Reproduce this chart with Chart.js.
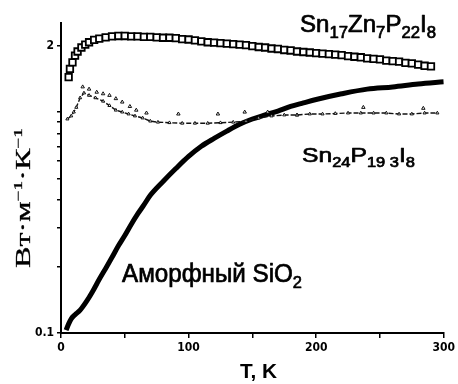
<!DOCTYPE html>
<html>
<head>
<meta charset="utf-8">
<script src="https://cdn.jsdelivr.net/npm/chart.js@4"></script>
<style>
  html, body { margin: 0; padding: 0; background: #fff; }
  #wrap { width: 458px; height: 384px; }
</style>
</head>
<body>
<div id="wrap"><canvas id="c" width="458" height="384"></canvas></div>
<script>
// ---------- DATA ----------
// Sn17Zn7P22I8 (open squares)
const sqT = [6, 7, 9, 11, 13, 16, 19, 22, 26, 30, 35, 40, 45, 50, 55, 60, 65, 70, 75, 80, 85, 90, 95, 100,
  105, 110, 115, 120, 125, 130, 135, 140, 145, 150, 155, 160, 165, 170, 175, 180, 185, 190, 195, 200,
  205, 210, 215, 220, 225, 230, 235, 240, 245, 250, 255, 260, 265, 270, 275, 280, 285, 290];
const sqK = [1.44, 1.57, 1.68, 1.80, 1.88, 1.96, 2.02, 2.07, 2.12, 2.15, 2.18, 2.20, 2.21, 2.21, 2.20, 2.20, 2.19, 2.19, 2.18, 2.17, 2.17, 2.16, 2.14, 2.13,
  2.11, 2.09, 2.07, 2.06, 2.05, 2.04, 2.03, 2.02, 2.01, 1.99, 1.97, 1.96, 1.94, 1.93, 1.91, 1.90, 1.88, 1.87, 1.86, 1.85,
  1.84, 1.83, 1.82, 1.81, 1.79, 1.78, 1.77, 1.75, 1.74, 1.73, 1.71, 1.70, 1.69, 1.67, 1.66, 1.64, 1.62, 1.61];

// Sn24P19.3I8 (triangles, dashed) – main (lower) branch
const triT = [5, 8, 10, 12, 15, 18, 22, 27, 33, 38, 43, 48, 53, 58, 64, 70, 76, 85, 95, 105, 115, 125, 135, 145,
  155, 165, 175, 185, 195, 205, 215, 225, 235, 245, 255, 265, 275, 285, 295];
const triK = [0.93, 0.96, 1.00, 1.05, 1.16, 1.22, 1.19, 1.16, 1.12, 1.07, 1.02, 1.00, 0.98, 0.96, 0.94, 0.91, 0.90, 0.895, 0.89, 0.89, 0.89, 0.895, 0.90, 0.91,
  0.94, 0.96, 0.97, 0.97, 0.98, 0.98, 0.985, 0.99, 0.99, 0.99, 0.99, 0.98, 0.98, 0.99, 0.99];
// Sn24P19.3I8 – scattered upper points
const triUpT = [17, 22, 28, 33, 38, 43, 48, 54, 59, 67, 92, 123, 144, 162, 185, 237, 284];
const triUpK = [1.30, 1.27, 1.23, 1.21, 1.19, 1.15, 1.11, 1.06, 1.02, 0.99, 0.98, 0.98, 1.00, 1.00, 0.97, 1.05, 1.04];

// amorphous SiO2 (thick line)
const sioT = [4, 6, 8, 11, 15, 20, 25, 30, 35, 40, 45, 50, 55, 60, 65, 70, 80, 90, 100, 110, 120, 130, 140, 150,
  160, 170, 180, 190, 200, 220, 240, 260, 280, 300];
const sioK = [0.103, 0.110, 0.116, 0.121, 0.127, 0.139, 0.155, 0.175, 0.196, 0.220, 0.248, 0.276, 0.31, 0.345, 0.38, 0.42, 0.485, 0.555, 0.63, 0.70, 0.76, 0.82, 0.88, 0.93,
  0.97, 1.01, 1.06, 1.10, 1.14, 1.21, 1.27, 1.30, 1.34, 1.37];

// ticks
const xTicks = [0, 50, 100, 150, 200, 250, 300];
const xTickLabels = ['0', '', '100', '', '200', '', '300'];
const yTicks = [0.1, 0.2, 0.3, 0.4, 0.5, 0.6, 0.7, 0.8, 0.9, 1, 2];
const yTickLabels = ['0.1', '', '', '', '', '', '', '', '', '', '2'];

// texts
const xTitle = 'T, K';
const yTitleParts = [['Вт·м', 0], ['−1', 2], ['·К', 0], ['−1', 2]];
const labelSn17 = [['Sn', 0], ['17', 1], ['Zn', 0], ['7', 1], ['P', 0], ['22', 1], ['I', 0], ['8', 1]];
const labelSn24 = [['Sn', 0], ['24', 1], ['P', 0], ['19 3', 1], ['I', 0], ['8', 1]];
const labelSiO2 = [['Аморфный SiO', 0], ['2', 1]];

// ---------- helpers ----------
const pts = (xs, ys) => xs.map((x, i) => ({ x: x, y: ys[i] }));

function drawRich(ctx, parts, opt) {
  const size = opt.size, fam = opt.family, w = opt.weight || 'normal';
  const subSize = Math.round(size * (opt.subRatio || 0.68));
  const fontN = w + ' ' + size + 'px ' + fam;
  const fontS = w + ' ' + subSize + 'px ' + fam;
  let natural = 0;
  parts.forEach(p => { ctx.font = p[1] ? fontS : fontN; natural += ctx.measureText(p[0]).width; });
  const sx = opt.width ? opt.width / natural : 1;
  ctx.save();
  ctx.translate(opt.x, opt.y);
  if (opt.rotate) ctx.rotate(-Math.PI / 2);
  ctx.scale(sx, 1);
  let cx = opt.center ? -natural / 2 : 0;
  ctx.fillStyle = '#000';
  ctx.strokeStyle = '#000';
  ctx.lineWidth = opt.stroke || 0;
  ctx.lineJoin = 'round';
  ctx.textBaseline = 'alphabetic';
  ctx.textAlign = 'left';
  parts.forEach(p => {
    ctx.font = p[1] ? fontS : fontN;
    let dy = 0;
    if (p[1] === 1) dy = size * 0.24;
    if (p[1] === 2) dy = -size * 0.42;
    ctx.fillText(p[0], cx, dy);
    if (opt.stroke) ctx.strokeText(p[0], cx, dy);
    cx += ctx.measureText(p[0]).width;
  });
  ctx.restore();
}

const textPlugin = {
  id: 'texts',
  afterDraw(chart) {
    const ctx = chart.ctx;
    const sans = '"Liberation Sans", Arial, sans-serif';
    const serif = '"Liberation Serif", "Times New Roman", serif';
    drawRich(ctx, labelSn17, { x: 300, y: 32, size: 23, family: sans, width: 136, stroke: 0.7 });
    drawRich(ctx, labelSn24, { x: 302, y: 162, size: 21, family: sans, width: 113, stroke: 0.7 });
    drawRich(ctx, labelSiO2, { x: 122, y: 282, size: 25, family: sans, width: 180, stroke: 0.7 });
    drawRich(ctx, [[xTitle, 0]], { x: 240, y: 378, size: 21, family: sans, weight: 'bold', width: 37 });
    drawRich(ctx, yTitleParts, { x: 30, y: 198, size: 20, family: serif, width: 140, rotate: true, center: true, subRatio: 0.62, stroke: 0.3 });
  }
};

// ---------- chart ----------
const tickFont = { family: '"Liberation Sans Narrow", "DejaVu Sans Condensed", "Liberation Sans", sans-serif', size: 12, weight: 'bold' };

new Chart(document.getElementById('c'), {
  type: 'scatter',
  data: {
    datasets: [
      {
        label: 'SiO2',
        data: pts(sioT, sioK),
        showLine: true,
        borderColor: '#000',
        borderWidth: 5,
        pointRadius: 0,
        cubicInterpolationMode: 'monotone',
        order: 3
      },
      {
        label: 'Sn24 lower',
        data: pts(triT, triK),
        showLine: true,
        borderColor: '#111',
        borderWidth: 1.4,
        borderDash: [5, 2],
        pointStyle: 'triangle',
        pointRadius: 1.8,
        pointBorderWidth: 1,
        pointBackgroundColor: '#fff',
        pointBorderColor: '#111',
        order: 2
      },
      {
        label: 'Sn24 upper',
        data: pts(triUpT, triUpK),
        showLine: false,
        pointStyle: 'triangle',
        pointRadius: 2,
        pointBorderWidth: 1,
        pointBackgroundColor: '#fff',
        pointBorderColor: '#111',
        order: 2
      },
      {
        label: 'Sn17',
        data: pts(sqT, sqK),
        showLine: false,
        pointStyle: 'rect',
        pointRadius: 4.6,
        pointBorderWidth: 1.8,
        pointBackgroundColor: '#fff',
        pointBorderColor: '#000',
        order: 1
      }
    ]
  },
  options: {
    responsive: false,
    animation: false,
    events: [],
    layout: { padding: { top: 23, right: 11, left: 0, bottom: 0 } },
    plugins: { legend: { display: false }, tooltip: { enabled: false } },
    scales: {
      x: {
        type: 'linear',
        min: 0, max: 300,
        afterFit(s) { s.height = 51; },
        afterBuildTicks(s) { s.ticks = xTicks.map(v => ({ value: v })); },
        ticks: {
          autoSkip: false, maxRotation: 0, padding: 3, color: '#000', font: tickFont,
          callback: (v) => xTickLabels[xTicks.indexOf(v)] || ''
        },
        grid: { display: true, drawOnChartArea: false, drawTicks: true, tickLength: 5, color: '#000', lineWidth: 1.5 },
        border: { display: true, color: '#000', width: 2 }
      },
      y: {
        type: 'logarithmic',
        min: 0.1, max: 2.53,
        afterFit(s) { s.width = 61; },
        afterBuildTicks(s) { s.ticks = yTicks.map(v => ({ value: v })); },
        ticks: {
          autoSkip: false, padding: 3, color: '#000', font: tickFont,
          callback: (v) => yTickLabels[yTicks.indexOf(v)] || ''
        },
        grid: { display: true, drawOnChartArea: false, drawTicks: true, tickLength: 4, color: '#000', lineWidth: 1.5 },
        border: { display: true, color: '#000', width: 2 }
      }
    }
  },
  plugins: [textPlugin]
});
</script>
</body>
</html>
